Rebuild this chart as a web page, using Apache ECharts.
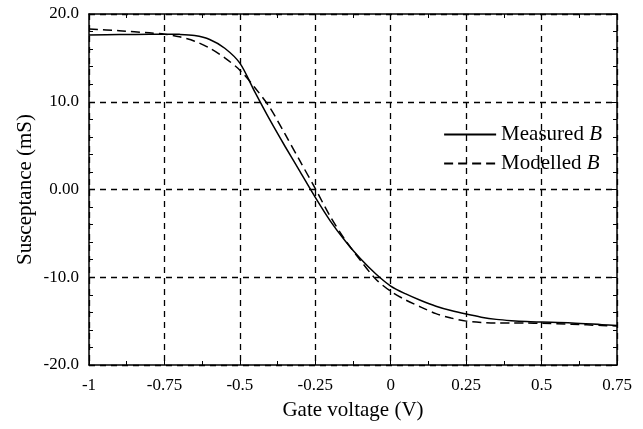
<!DOCTYPE html>
<html>
<head>
<meta charset="utf-8">
<script src="https://cdn.jsdelivr.net/npm/echarts@6/dist/echarts.min.js"></script>
<style>
  html, body { margin: 0; padding: 0; background: #fff; }
  #chart { width: 643px; height: 429px; }
</style>
</head>
<body>
<div id="chart"></div>
<script>
// gate voltage (V)
const gateVoltage = [-1, -0.9, -0.8, -0.75, -0.7, -0.65, -0.6, -0.55, -0.5, -0.45, -0.4, -0.35, -0.3, -0.25,
  -0.2, -0.15, -0.1, -0.05, 0, 0.05, 0.1, 0.15, 0.2, 0.25, 0.3, 0.35, 0.4, 0.45, 0.5, 0.6, 0.7, 0.75];
// susceptance (mS)
const measuredB = [17.6, 17.65, 17.7, 17.7, 17.68, 17.55, 17.1, 16.1, 14.4, 11.1, 7.9, 4.9, 2.0, -0.9,
  -3.6, -5.9, -7.9, -9.6, -11.0, -11.9, -12.65, -13.3, -13.8, -14.2, -14.55, -14.8, -14.95, -15.05, -15.1, -15.2, -15.4, -15.5];
const modelledB = [18.3, 18.1, 17.85, 17.7, 17.4, 16.9, 16.1, 15.0, 13.6, 11.6, 9.3, 6.3, 3.2, 0.1,
  -3.1, -5.8, -8.1, -10.2, -11.6, -12.6, -13.4, -14.15, -14.65, -15.0, -15.15, -15.2, -15.2, -15.22, -15.25, -15.35, -15.5, -15.55];
const yLabels = ['-20.0', '-10.0', '0.00', '10.0', '20.0'];

const font = 'Liberation Serif';
const chart = echarts.init(document.getElementById('chart'));

function pairs(ys) {
  return gateVoltage.map((x, i) => [x, ys[i]]);
}

const boxLine = { show: true, onZero: false, lineStyle: { color: '#000', width: 1.5 } };
const tick = { show: true, inside: true, length: 5, lineStyle: { color: '#000' } };
const minor = { show: true, length: 4, lineStyle: { color: '#000', width: 1 } };
const grid = { show: true, lineStyle: { color: '#000', type: [6, 5], width: 1.3 } };

chart.setOption({
  animation: false,
  backgroundColor: '#fff',
  grid: { left: 89, right: 26, top: 14, bottom: 64 },
  legend: {
    orient: 'vertical',
    right: 36,
    top: 119,
    itemWidth: 52,
    itemHeight: 14,
    itemGap: 8,
    itemStyle: { opacity: 0 },
    formatter: name => name + ' {i|B}',
    textStyle: {
      fontFamily: font, fontSize: 21, color: '#000',
      rich: { i: { fontFamily: font, fontSize: 21, fontStyle: 'italic', color: '#000' } }
    },
    data: ['Measured', 'Modelled']
  },
  xAxis: [{
    type: 'value',
    min: -1, max: 0.75, interval: 0.25,
    position: 'bottom',
    name: 'Gate voltage (V)',
    nameLocation: 'middle',
    nameGap: 35,
    nameTextStyle: { fontFamily: font, fontSize: 21, color: '#000' },
    axisLine: boxLine,
    axisTick: tick,
    minorTick: Object.assign({ splitNumber: 2 }, minor),
    splitLine: grid,
    axisLabel: { fontFamily: font, fontSize: 17, color: '#000', margin: 12 }
  }, {
    type: 'value',
    min: -1, max: 0.75, interval: 0.25,
    position: 'top',
    axisLine: boxLine,
    axisTick: tick,
    minorTick: Object.assign({ splitNumber: 2 }, minor),
    splitLine: { show: false },
    axisLabel: { show: false }
  }],
  yAxis: [{
    type: 'value',
    min: -20, max: 20, interval: 10,
    position: 'left',
    name: 'Susceptance (mS)',
    nameLocation: 'middle',
    nameGap: 53,
    nameMoveOverlap: false,
    nameTextStyle: { fontFamily: font, fontSize: 21, color: '#000' },
    axisLine: boxLine,
    axisTick: tick,
    minorTick: Object.assign({ splitNumber: 5 }, minor),
    splitLine: grid,
    axisLabel: {
      fontFamily: font, fontSize: 17, color: '#000', margin: 10,
      formatter: v => yLabels[Math.round((v + 20) / 10)]
    }
  }, {
    type: 'value',
    min: -20, max: 20, interval: 10,
    position: 'right',
    axisLine: boxLine,
    axisTick: tick,
    minorTick: Object.assign({ splitNumber: 5 }, minor),
    splitLine: { show: false },
    axisLabel: { show: false }
  }],
  series: [{
    name: 'Measured',
    type: 'line',
    data: pairs(measuredB),
    smooth: 0.3,
    symbol: 'none',
    lineStyle: { color: '#000', width: 1.5, type: 'solid' },
    itemStyle: { color: '#000' }
  }, {
    name: 'Modelled',
    type: 'line',
    data: pairs(modelledB),
    smooth: 0.3,
    symbol: 'none',
    lineStyle: { color: '#000', width: 1.5, type: [9, 5] },
    itemStyle: { color: '#000' }
  }]
});
</script>
</body>
</html>
